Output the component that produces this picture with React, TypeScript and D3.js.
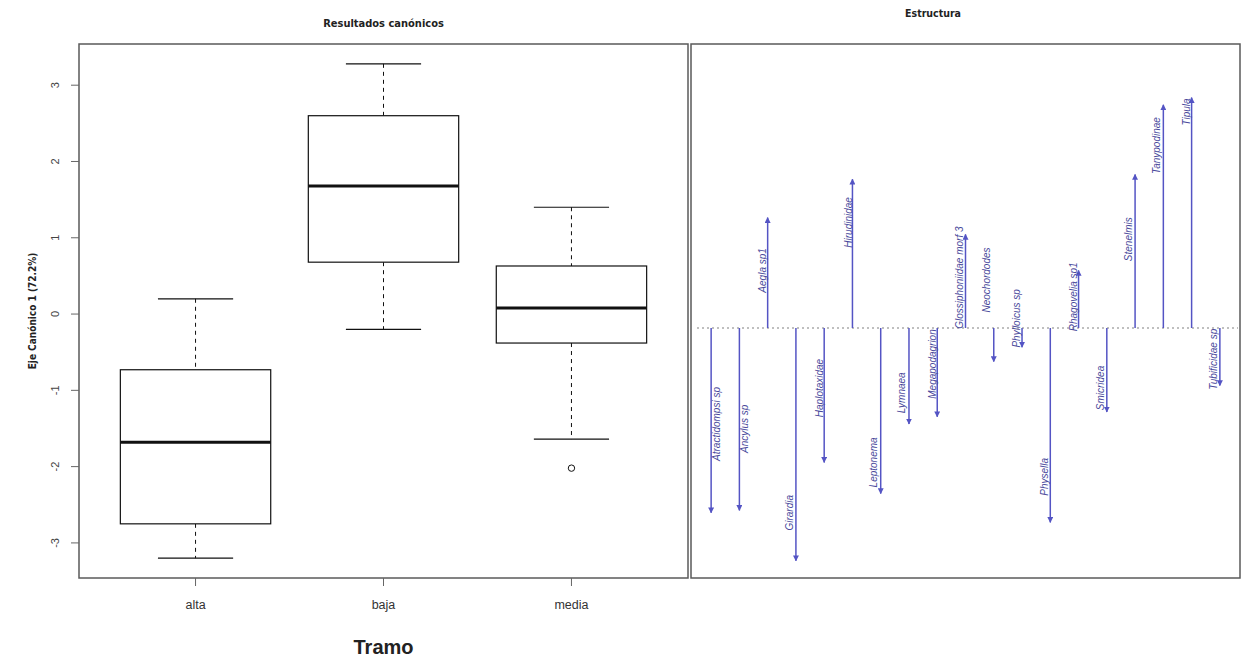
import React from "react";
import * as d3 from "d3";

// Canonical scores by stretch (boxplot summaries)
const groups = ["alta", "baja", "media"];
const lowerWhisker = [-3.2, -0.2, -1.64];
const q1 = [-2.75, 0.68, -0.38];
const median = [-1.68, 1.68, 0.08];
const q3 = [-0.73, 2.6, 0.63];
const upperWhisker = [0.2, 3.28, 1.4];
const outliers = [[], [], [-2.02]];
const yTicks = [-3, -2, -1, 0, 1, 2, 3];

// Structure coefficients of each taxon on canonical axis 1
const taxa = [
  "Atractidompsi sp",
  "Ancylus sp",
  "Aegla sp1",
  "Girardia",
  "Haplotaxidae",
  "Hirudinidae",
  "Leptonema",
  "Lymnaea",
  "Megapodagrion",
  "Glossiphoniidae morf 3",
  "Neochordodes",
  "Phylloicus sp",
  "Physella",
  "Rhagovelia sp1",
  "Smicridea",
  "Stenelmis",
  "Tanypodinae",
  "Tipula",
  "Tubificidae sp",
];
const structure = [
  -0.77, -0.76, 0.46, -0.97, -0.56, 0.62, -0.69, -0.4, -0.37, 0.39, -0.14,
  -0.08, -0.81, 0.24, -0.35, 0.64, 0.93, 0.96, -0.24,
];

// Label placement along each arrow (axis units) and sideways nudge (px)
const labelAt = [
  -0.4, -0.42, 0.24, -0.77, -0.25, 0.44, -0.56, -0.27, -0.15, 0.21, 0.2, 0.04,
  -0.62, 0.13, -0.25, 0.37, 0.76, 0.9, -0.13,
];
const labelDx = [
  5, 5, -5, -6, -5, -4, -7, -7, -5, -6, -7, -6, -6, -5, -6, -7, -7, -5, -6,
];

const W = 1243;
const H = 658;

const L = { left: 79, right: 688, top: 44, bottom: 578 };
const R = { left: 691, right: 1240, top: 44, bottom: 578 };

const ARROW = "#5454c4";
const LABEL = "#4a4a9c";
const FRAME = "#5a5a5a";

export default function App() {
  const x = d3.scalePoint<string>().domain(groups).range([L.left, L.right]).padding(0.62);
  const y = d3.scaleLinear().domain([-3.46, 3.54]).range([L.bottom, L.top]);
  const boxW = x.step() * 0.8;

  const xr = d3.scalePoint<string>().domain(taxa).range([697, 1234]).padding(0.5);
  const yr = d3.scaleLinear().domain([-1, 1]).range([568, 88]);

  const sans = "'Liberation Sans', Arial, sans-serif";

  return (
    <svg
      width={W}
      height={H}
      style={{ position: "absolute", left: 0, top: 0, background: "#fff" }}
      fontFamily={sans}
    >
      <defs>
        <marker
          id="head"
          viewBox="0 0 10 10"
          refX="9"
          refY="5"
          markerWidth="6"
          markerHeight="6"
          markerUnits="userSpaceOnUse"
          orient="auto"
        >
          <path d="M0,0 L10,5 L0,10 Z" fill={ARROW} />
        </marker>
      </defs>
      <rect width={W} height={H} fill="#fff" />

      {/* Left panel: boxplots */}
      <text
        x={(L.left + L.right) / 2}
        y={27}
        textAnchor="middle"
        fontSize={11}
        fontWeight="bold"
        fontFamily="'DejaVu Sans Condensed', 'DejaVu Sans', sans-serif"
        fill="#222"
      >
        Resultados canónicos
      </text>
      <rect
        x={L.left}
        y={L.top}
        width={L.right - L.left}
        height={L.bottom - L.top}
        fill="none"
        stroke={FRAME}
        strokeWidth={1.5}
      />

      {/* y axis */}
      {yTicks.map((t) => (
        <g key={t}>
          <line x1={L.left - 8} x2={L.left} y1={y(t)} y2={y(t)} stroke="#666" />
          <text
            transform={`translate(${L.left - 24},${y(t)}) rotate(-90)`}
            textAnchor="middle"
            dominantBaseline="central"
            fontSize={11}
            fill="#444"
          >
            {t}
          </text>
        </g>
      ))}
      <text
        transform={`translate(32,${(L.top + L.bottom) / 2}) rotate(-90)`}
        textAnchor="middle"
        dominantBaseline="central"
        fontSize={10}
        fontWeight="bold"
        fontFamily="'DejaVu Sans Condensed', 'DejaVu Sans', sans-serif"
        fill="#222"
      >
        Eje Canónico 1 (72.2%)
      </text>

      {/* x axis */}
      {groups.map((g) => (
        <g key={g}>
          <line x1={x(g)} x2={x(g)} y1={L.bottom} y2={L.bottom + 8} stroke="#666" />
          <text x={x(g)} y={609} textAnchor="middle" fontSize={12.5} fill="#333">
            {g}
          </text>
        </g>
      ))}
      <text
        x={x("baja")}
        y={654}
        textAnchor="middle"
        fontSize={20}
        fontWeight="bold"
        fill="#222"
      >
        Tramo
      </text>

      {groups.map((g, i) => {
        const cx = x(g) as number;
        return (
          <g key={g} stroke="#111" fill="none">
            <line
              x1={cx}
              x2={cx}
              y1={y(upperWhisker[i])}
              y2={y(q3[i])}
              strokeDasharray="4,4"
              strokeWidth={1}
            />
            <line
              x1={cx}
              x2={cx}
              y1={y(q1[i])}
              y2={y(lowerWhisker[i])}
              strokeDasharray="4,4"
              strokeWidth={1}
            />
            <line
              x1={cx - boxW / 4}
              x2={cx + boxW / 4}
              y1={y(upperWhisker[i])}
              y2={y(upperWhisker[i])}
              strokeWidth={1.2}
            />
            <line
              x1={cx - boxW / 4}
              x2={cx + boxW / 4}
              y1={y(lowerWhisker[i])}
              y2={y(lowerWhisker[i])}
              strokeWidth={1.2}
            />
            <rect
              x={cx - boxW / 2}
              y={y(q3[i])}
              width={boxW}
              height={y(q1[i]) - y(q3[i])}
              fill="#fff"
              strokeWidth={1.2}
            />
            <line
              x1={cx - boxW / 2}
              x2={cx + boxW / 2}
              y1={y(median[i])}
              y2={y(median[i])}
              strokeWidth={3}
            />
            {outliers[i].map((o, j) => (
              <circle key={j} cx={cx} cy={y(o)} r={3.2} strokeWidth={1} />
            ))}
          </g>
        );
      })}

      {/* Right panel: structure arrows */}
      <text
        x={933}
        y={17}
        textAnchor="middle"
        fontSize={10.5}
        fontWeight="bold"
        fontFamily="'DejaVu Sans Condensed', 'DejaVu Sans', sans-serif"
        fill="#222"
      >
        Estructura
      </text>
      <rect
        x={R.left}
        y={R.top}
        width={R.right - R.left}
        height={R.bottom - R.top}
        fill="none"
        stroke={FRAME}
        strokeWidth={1.5}
      />
      <line
        x1={697}
        x2={1238}
        y1={yr(0)}
        y2={yr(0)}
        stroke="#aaa"
        strokeWidth={1.5}
        strokeDasharray="2,3"
      />
      {taxa.map((t, i) => {
        const px = xr(t) as number;
        return (
          <g key={t}>
            <line
              x1={px}
              x2={px}
              y1={yr(0)}
              y2={yr(structure[i])}
              stroke={ARROW}
              strokeWidth={1.5}
              markerEnd="url(#head)"
            />
            <text
              transform={`translate(${px + labelDx[i]},${yr(labelAt[i])}) rotate(-90)`}
              textAnchor="middle"
              dominantBaseline="central"
              fontSize={10}
              fontStyle="italic"
              fill={LABEL}
            >
              {t}
            </text>
          </g>
        );
      })}
    </svg>
  );
}
